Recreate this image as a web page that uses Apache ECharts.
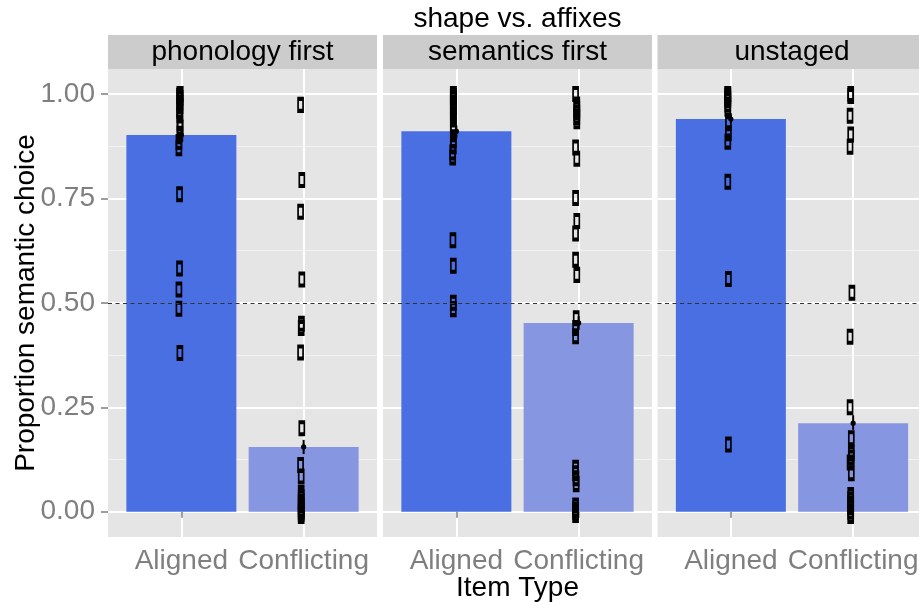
<!DOCTYPE html>
<html><head><meta charset="utf-8">
<script src="https://cdn.jsdelivr.net/npm/echarts@6/dist/echarts.min.js"></script>
<style>html,body{margin:0;padding:0;background:#fff}#c{width:919px;height:602px}</style>
</head><body><div id="c"></div>
<script>
// ---------- data ----------
const chartTitle = 'shape vs. affixes';
const facets = ['phonology first', 'semantics first', 'unstaged'];
const itemTypes = ['Aligned', 'Conflicting'];
const xTitle = 'Item Type';
const yTitle = 'Proportion semantic choice';
const yTicks = [0, 0.25, 0.5, 0.75, 1];
const yMinorTicks = [0.125, 0.375, 0.625, 0.875];
const refLine = 0.5;

// bar heights (means) per facet: [Aligned, Conflicting]
const meanPhonology = [0.902, 0.155];
const meanSemantics = [0.911, 0.452];
const meanUnstaged = [0.940, 0.212];

// interval around mean per facet: [[lo, hi] Aligned, [lo, hi] Conflicting]
const ciPhonology = [[0.885, 0.920], [0.138, 0.172]];
const ciSemantics = [[0.895, 0.925], [0.435, 0.468]];
const ciUnstaged = [[0.930, 0.954], [0.196, 0.231]];

// individual points: [jitter offset, proportion]
const ptsPhonologyAligned = [[-0.010,1.000],[-0.012,1.000],[-0.015,0.995],[-0.010,0.990],[-0.012,0.980],[-0.010,0.970],[-0.015,0.960],[-0.012,0.950],[-0.012,0.930],[-0.010,0.920],[-0.012,0.905],[-0.020,0.885],[-0.020,0.870],[-0.015,0.760],[-0.015,0.582],[-0.020,0.532],[-0.020,0.486],[-0.012,0.380]];
const ptsPhonologyConflicting = [[-0.025,0.974],[-0.015,0.794],[-0.025,0.718],[-0.015,0.556],[-0.018,0.450],[-0.020,0.440],[-0.025,0.381],[-0.015,0.200],[-0.025,0.112],[-0.020,0.084],[-0.020,0.045],[-0.020,0.035],[-0.020,0.025],[-0.020,0.015],[-0.020,0.005],[-0.020,0.000],[-0.020,-0.005],[-0.020,-0.010]];
const ptsSemanticsAligned = [[-0.025,1.000],[-0.025,1.000],[-0.025,0.995],[-0.025,0.990],[-0.025,0.980],[-0.025,0.970],[-0.025,0.960],[-0.025,0.950],[-0.025,0.940],[-0.025,0.925],[-0.025,0.910],[-0.025,0.890],[-0.025,0.875],[-0.030,0.860],[-0.030,0.848],[-0.028,0.650],[-0.025,0.589],[-0.025,0.500],[-0.025,0.485]];
const ptsSemanticsConflicting = [[-0.025,1.000],[-0.015,0.975],[-0.015,0.965],[-0.015,0.955],[-0.015,0.945],[-0.015,0.935],[-0.025,0.872],[-0.015,0.845],[-0.025,0.751],[-0.015,0.696],[-0.025,0.666],[-0.025,0.603],[-0.015,0.567],[-0.020,0.463],[-0.025,0.440],[-0.025,0.420],[-0.025,0.105],[-0.025,0.092],[-0.022,0.080],[-0.020,0.066],[-0.025,0.015],[-0.025,0.005],[-0.025,0.000],[-0.025,-0.008]];
const ptsUnstagedAligned = [[-0.025,1.000],[-0.025,1.000],[-0.025,0.995],[-0.025,0.990],[-0.025,0.985],[-0.025,0.975],[-0.025,0.965],[-0.020,0.930],[-0.020,0.906],[-0.025,0.886],[-0.025,0.790],[-0.020,0.557],[-0.020,0.161]];
const ptsUnstagedConflicting = [[-0.020,1.000],[-0.020,0.995],[-0.025,0.948],[-0.020,0.903],[-0.025,0.874],[-0.010,0.524],[-0.025,0.419],[-0.025,0.250],[-0.015,0.176],[-0.015,0.140],[-0.015,0.130],[-0.025,0.118],[-0.015,0.092],[-0.020,0.040],[-0.020,0.030],[-0.020,0.020],[-0.020,0.010],[-0.020,0.000],[-0.020,-0.010]];

// ---------- assembly ----------
const means = [meanPhonology, meanSemantics, meanUnstaged];
const cis = [ciPhonology, ciSemantics, ciUnstaged];
const pts = [[ptsPhonologyAligned, ptsPhonologyConflicting],[ptsSemanticsAligned, ptsSemanticsConflicting],[ptsUnstagedAligned, ptsUnstagedConflicting]];

const FONT = '"Liberation Sans", Arial, Helvetica, sans-serif';
const GREY_TXT = '#7F7F7F';
const barColors = ['#4A6FE3', '#8796E0'];
const gridLefts = [108, 383, 657.5];
const gridW = 269, gridTop = 69, gridH = 468;
const yMin = -0.0606, yMax = 1.0599;

const grids = [], xAxes = [], yAxes = [], series = [], graphics = [];
facets.forEach((f, i) => {
  grids.push({left: gridLefts[i], top: gridTop, width: gridW, height: gridH, show: true,
    backgroundColor: '#E5E5E5', borderWidth: 0, containLabel: false, outerBoundsMode: 'none'});
  xAxes.push({type: 'value', gridIndex: i, min: 0.4, max: 2.6,
    axisLine: {show: false},
    axisTick: {show: true, customValues: [1, 2], length: 6, lineStyle: {color: GREY_TXT, width: 1.5}},
    axisLabel: {show: true, customValues: [1, 2], formatter: v => itemTypes[Math.round(v) - 1],
      color: GREY_TXT, fontSize: 28, fontFamily: FONT, margin: 10},
    splitLine: {show: true, lineStyle: {color: '#FFFFFF', width: 2}},
    name: i === 1 ? xTitle : '', nameLocation: 'middle', nameGap: 37, nameMoveOverlap: false,
    nameTextStyle: {color: '#000', fontSize: 28, fontFamily: FONT}
  });
});
facets.forEach((f, i) => {
  yAxes.push({type: 'value', gridIndex: i, min: yMin, max: yMax, position: 'left',
    axisLine: {show: false},
    axisTick: {show: i === 0, customValues: yTicks, length: 7, lineStyle: {color: GREY_TXT, width: 1.5}},
    axisLabel: {show: i === 0, customValues: yTicks, formatter: v => v.toFixed(2),
      color: GREY_TXT, fontSize: 28, fontFamily: FONT, margin: 13},
    splitLine: {show: true, lineStyle: {color: '#FFFFFF', width: 2}},
    name: i === 0 ? yTitle : '', nameLocation: 'middle', nameGap: 68, nameMoveOverlap: false,
    nameTextStyle: {color: '#000', fontSize: 28, fontFamily: FONT}
  });
});
facets.forEach((f, i) => {
  yAxes.push({type: 'value', gridIndex: i, min: yMin, max: yMax, position: 'left',
    axisLine: {show: false},
    axisTick: {show: false, customValues: yMinorTicks},
    axisLabel: {show: false, customValues: yMinorTicks},
    splitLine: {show: true, lineStyle: {color: '#F2F2F2', width: 1}}
  });
});

facets.forEach((f, i) => {
  series.push({type: 'bar', xAxisIndex: i, yAxisIndex: i, barWidth: 110, z: 2,
    data: means[i].map((m, k) => ({value: [k + 1, m], itemStyle: {color: barColors[k]}})),
    markLine: {silent: true, symbol: 'none', label: {show: false},
      lineStyle: {type: [4, 3.5], color: '#333333', width: 1},
      data: [{yAxis: refLine}]}
  });
  const sdata = [];
  pts[i].forEach((arr, k) => arr.forEach(p => sdata.push([k + 1 + p[0], p[1]])));
  series.push({type: 'scatter', xAxisIndex: i, yAxisIndex: i, z: 3,
    symbol: 'rect', symbolSize: [5, 12],
    itemStyle: {color: 'rgba(0,0,0,0)', borderColor: '#000', borderWidth: 2.6, opacity: 1},
    data: sdata});
  series.push({type: 'custom', xAxisIndex: i, yAxisIndex: i, z: 4,
    encode: {x: 0, y: [1, 2, 3]},
    data: cis[i].map((c, k) => [k + 1, c[0], means[i][k], c[1]]),
    renderItem: (params, api) => {
      const x = api.value(0);
      const a = api.coord([x, api.value(1)]);
      const m = api.coord([x, api.value(2)]);
      const b = api.coord([x, api.value(3)]);
      return {type: 'group', children: [
        {type: 'line', shape: {x1: a[0], y1: a[1], x2: b[0], y2: b[1]}, style: {stroke: '#000', lineWidth: 2}},
        {type: 'circle', shape: {cx: m[0], cy: m[1], r: 2.6}, style: {fill: '#000'}}
      ]};
    }
  });
  graphics.push({type: 'rect', left: gridLefts[i], top: 35, shape: {width: gridW, height: 34},
    style: {fill: '#CCCCCC'}, silent: true});
  graphics.push({type: 'text', x: gridLefts[i] + gridW / 2, y: 52,
    style: {text: f, fill: '#000', fontSize: 28, fontFamily: FONT, textAlign: 'center', textVerticalAlign: 'middle'}, silent: true});
});
graphics.push({type: 'text', x: 517.5, y: 19,
  style: {text: chartTitle, fill: '#000', fontSize: 28, fontFamily: FONT, textAlign: 'center', textVerticalAlign: 'middle'}, silent: true});

const chart = echarts.init(document.getElementById('c'), null, {renderer: 'canvas'});
chart.setOption({
  animation: false,
  backgroundColor: '#FFFFFF',
  grid: grids, xAxis: xAxes, yAxis: yAxes, series: series, graphic: graphics
});
</script></body></html>
